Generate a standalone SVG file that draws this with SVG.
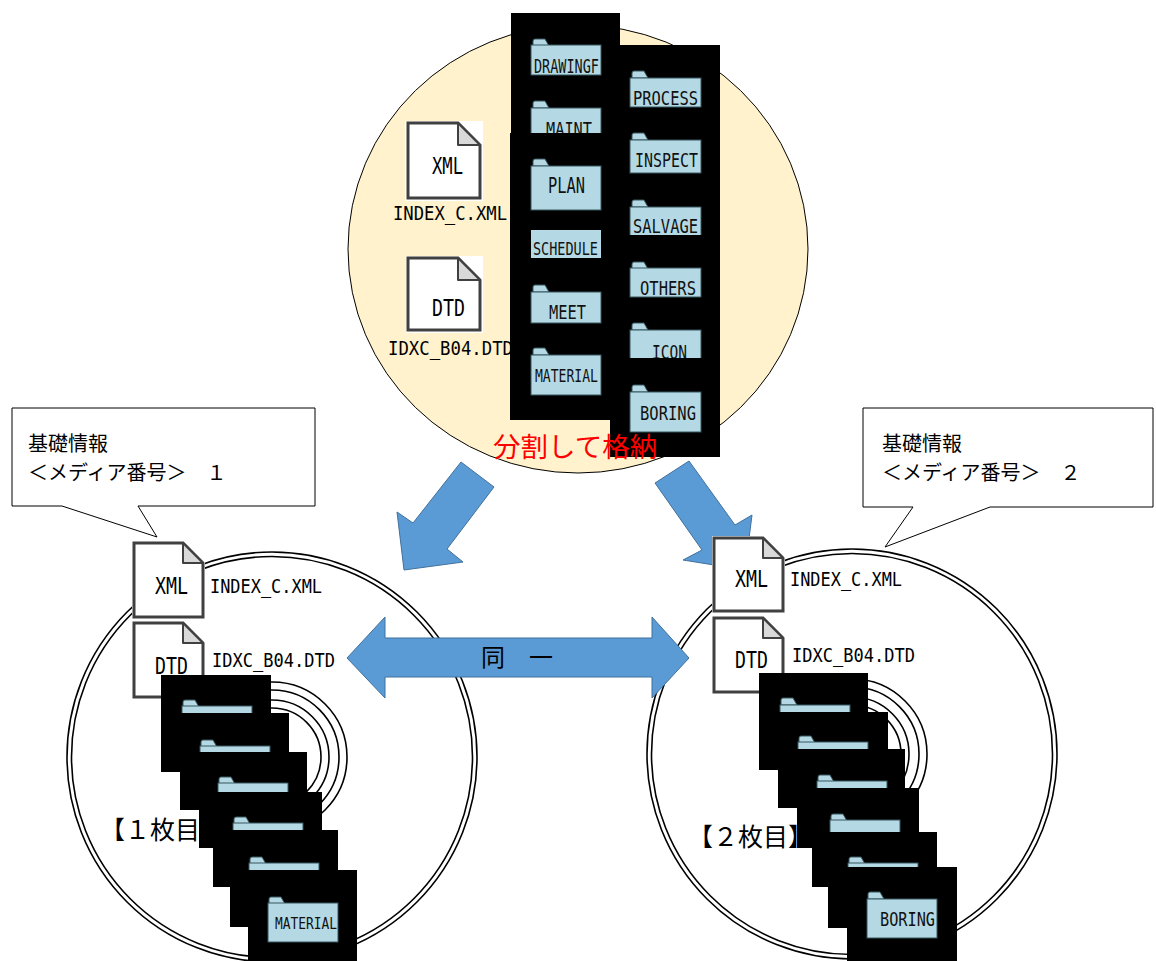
<svg xmlns="http://www.w3.org/2000/svg" xmlns:xlink="http://www.w3.org/1999/xlink" width="1156" height="961" viewBox="0 0 1156 961">
<style>
  .bk{fill:#000}
  .fd{fill:#B4D9E4;stroke:#36565E;stroke-width:1}
  .fl{font-family:"DejaVu Sans Mono",monospace;fill:#111}
  .lbl{font-family:"DejaVu Sans Mono",monospace;fill:#000}
  .jp{font-family:"Noto Sans CJK JP",sans-serif;fill:#000}
  .doc{fill:#fff;stroke:#404040;stroke-width:3}
  .fold{fill:#D9D9D9;stroke:#404040;stroke-width:2;stroke-linejoin:round}
  .ring{fill:none;stroke:#000;stroke-width:1.6}
  .arw{fill:#5B9BD5;stroke:#41719C;stroke-width:1}
  .call{fill:#fff;stroke:#000;stroke-width:1}
</style>
<defs>
  <!-- folder tab, origin at its top-left -->
  <path id="tab" class="fd" d="M1,7 V2 Q1,0 3,0 H13 L17,7 Z"/>
  <clipPath id="clipMaint"><rect x="520" y="95" width="95" height="38"/></clipPath>
  <clipPath id="clipIcon"><rect x="620" y="315" width="95" height="43"/></clipPath>
  <clipPath id="clipSalv"><rect x="620" y="195" width="95" height="40"/></clipPath>
</defs>

<rect width="1156" height="961" fill="#fff"/>

<!-- source volume -->
<g id="source">
  <ellipse cx="578" cy="249" rx="230" ry="224" fill="#FFF2CC" stroke="#000" stroke-width="1"/>

  <g id="src-xml">
    <rect x="405" y="121" width="78" height="80" fill="#fff"/>
    <path class="doc" d="M408,123 H458 L480,145 V198 H408 Z"/>
    <path class="fold" d="M458,123 V145 H480 Z"/>
    <text class="lbl" x="432" y="174" font-size="23" textLength="31" lengthAdjust="spacingAndGlyphs">XML</text>
    <text class="lbl" x="393" y="220" font-size="20" textLength="114" lengthAdjust="spacingAndGlyphs">INDEX_C.XML</text>
  </g>
  <g id="src-dtd">
    <rect x="406" y="256" width="77" height="77" fill="#fff"/>
    <path class="doc" d="M408,258 H458 L480,280 V330 H408 Z"/>
    <path class="fold" d="M458,258 V280 H480 Z"/>
    <text class="lbl" x="432" y="316" font-size="23" textLength="33" lengthAdjust="spacingAndGlyphs">DTD</text>
    <text class="lbl" x="388" y="355" font-size="20" textLength="125" lengthAdjust="spacingAndGlyphs">IDXC_B04.DTD</text>
  </g>

  <!-- right column of folders -->
  <g id="src-col2">
    <rect class="bk" x="610" y="45" width="110" height="412"/>
    <g id="f-process">
      <use href="#tab" x="631" y="71"/>
      <rect class="fd" x="630" y="78" width="71" height="29"/>
      <text class="fl" x="633" y="105" font-size="19" textLength="65" lengthAdjust="spacingAndGlyphs">PROCESS</text>
    </g>
    <g id="f-inspect">
      <use href="#tab" x="631" y="133"/>
      <rect class="fd" x="630" y="140" width="71" height="33"/>
      <text class="fl" x="635" y="167" font-size="19" textLength="63" lengthAdjust="spacingAndGlyphs">INSPECT</text>
    </g>
    <g id="f-salvage" clip-path="url(#clipSalv)">
      <use href="#tab" x="631" y="200"/>
      <rect class="fd" x="630" y="207" width="71" height="33"/>
      <text class="fl" x="633" y="233" font-size="19" textLength="65" lengthAdjust="spacingAndGlyphs">SALVAGE</text>
    </g>
    <g id="f-others">
      <use href="#tab" x="631" y="262"/>
      <rect class="fd" x="630" y="268" width="71" height="29"/>
      <text class="fl" x="640" y="295" font-size="19" textLength="56" lengthAdjust="spacingAndGlyphs">OTHERS</text>
    </g>
    <g id="f-icon" clip-path="url(#clipIcon)">
      <use href="#tab" x="631" y="323"/>
      <rect class="fd" x="630" y="330" width="71" height="35"/>
      <text class="fl" x="652" y="359" font-size="19" textLength="35" lengthAdjust="spacingAndGlyphs">ICON</text>
    </g>
    <g id="f-boring">
      <use href="#tab" x="631" y="385"/>
      <rect class="fd" x="630" y="392" width="71" height="40"/>
      <text class="fl" x="640" y="420" font-size="19" textLength="56" lengthAdjust="spacingAndGlyphs">BORING</text>
    </g>
  </g>

  <!-- left column of folders -->
  <g id="src-col1">
    <rect class="bk" x="511" y="13" width="109" height="120"/>
    <g id="f-drawingf">
      <use href="#tab" x="532" y="39"/>
      <rect class="fd" x="531" y="45" width="70" height="30"/>
      <text class="fl" x="534" y="73" font-size="19" textLength="65" lengthAdjust="spacingAndGlyphs">DRAWINGF</text>
    </g>
    <g id="f-maint" clip-path="url(#clipMaint)">
      <use href="#tab" x="532" y="101"/>
      <rect class="fd" x="531" y="108" width="70" height="35"/>
      <text class="fl" x="546" y="136" font-size="19" textLength="46" lengthAdjust="spacingAndGlyphs">MAINT</text>
    </g>
    <rect class="bk" x="510" y="133" width="110" height="287"/>
    <g id="f-plan">
      <use href="#tab" x="532" y="159"/>
      <rect class="fd" x="531" y="166" width="70" height="44"/>
      <text class="fl" x="548" y="193" font-size="21" textLength="37" lengthAdjust="spacingAndGlyphs">PLAN</text>
    </g>
    <g id="f-schedule">
      <rect x="531" y="230" width="70" height="28" fill="#B4D9E4"/>
      <text class="fl" x="533" y="255" font-size="17" textLength="65" lengthAdjust="spacingAndGlyphs">SCHEDULE</text>
    </g>
    <g id="f-meet">
      <use href="#tab" x="532" y="285"/>
      <rect class="fd" x="531" y="292" width="70" height="31"/>
      <text class="fl" x="549" y="319" font-size="20" textLength="37" lengthAdjust="spacingAndGlyphs">MEET</text>
    </g>
    <g id="f-material">
      <use href="#tab" x="532" y="348"/>
      <rect class="fd" x="531" y="355" width="70" height="40"/>
      <text class="fl" x="535" y="382" font-size="18" textLength="63" lengthAdjust="spacingAndGlyphs">MATERIAL</text>
    </g>
  </g>

  <text class="jp" x="493" y="457" font-size="27.5" style="fill:#FF0000">分割して格納</text>
</g>

<!-- connectors -->
<g id="connectors">
  <polygon class="arw" points="461,462 494,487 447,549 463,562 404,570 397,512 413,523"/>
  <polygon class="arw" points="689,461 655,483 702,550 683,560 745,570 752,515 735,525"/>
</g>

<!-- disc 1 -->
<g id="disc1">
  <circle class="ring" cx="272" cy="757" r="205"/>
  <circle class="ring" cx="272" cy="757" r="200.5"/>
  <circle class="ring" cx="272" cy="757" r="75"/>
  <circle class="ring" cx="272" cy="757" r="67"/>
  <circle class="ring" cx="272" cy="757" r="57"/>
  <circle class="ring" cx="272" cy="757" r="49"/>
</g>

<!-- disc 2 -->
<g id="disc2">
  <circle class="ring" cx="852" cy="754" r="205"/>
  <circle class="ring" cx="852" cy="754" r="200.5"/>
  <circle class="ring" cx="852" cy="754" r="75"/>
  <circle class="ring" cx="852" cy="754" r="67"/>
  <circle class="ring" cx="852" cy="754" r="57"/>
  <circle class="ring" cx="852" cy="754" r="49"/>
</g>

<!-- "identical" double arrow -->
<g id="same">
  <polygon class="arw" points="347,658 385,617 385,638 652,638 652,617 689,658 652,698 652,677 385,677 385,698"/>
  <text class="jp" x="481" y="666" font-size="24">同　一</text>
</g>

<!-- callouts -->
<g id="note1">
  <path class="call" d="M12,408 H315 V506 H138 L157,537 L62,506 H12 Z"/>
  <text class="jp" x="28" y="451" font-size="20">基礎情報</text>
  <text class="jp" x="28" y="480" font-size="20">＜メディア番号＞　１</text>
</g>
<g id="note2">
  <path class="call" d="M863,408 H1153 V507 H990 L885,547 L913,507 H863 Z"/>
  <text class="jp" x="882" y="451" font-size="20">基礎情報</text>
  <text class="jp" x="882" y="480" font-size="20">＜メディア番号＞　２</text>
</g>

<!-- disc 1 contents -->
<g id="disc1-files">
  <rect x="132" y="541" width="73" height="78" fill="#fff"/>
  <path class="doc" d="M134,543 H183 L203,563 V617 H134 Z"/>
  <path class="fold" d="M183,543 V563 H203 Z"/>
  <text class="lbl" x="155" y="594" font-size="23" textLength="33" lengthAdjust="spacingAndGlyphs">XML</text>
  <text class="lbl" x="210" y="593" font-size="19" textLength="112" lengthAdjust="spacingAndGlyphs">INDEX_C.XML</text>
  <rect x="132" y="621" width="73" height="78" fill="#fff"/>
  <path class="doc" d="M134,623 H183 L203,643 V697 H134 Z"/>
  <path class="fold" d="M183,623 V643 H203 Z"/>
  <text class="lbl" x="155" y="674" font-size="23" textLength="33" lengthAdjust="spacingAndGlyphs">DTD</text>
  <text class="lbl" x="212" y="667" font-size="19" textLength="123" lengthAdjust="spacingAndGlyphs">IDXC_B04.DTD</text>
  <text class="jp" x="100" y="839" font-size="25">【１枚目】</text>
</g>
<g id="disc1-folders">
  <rect class="bk" x="161" y="675" width="110" height="97"/>
  <use href="#tab" x="182" y="700"/>
  <rect class="fd" x="182" y="706" width="70" height="30"/>
  <rect class="bk" x="180" y="713" width="109" height="97"/>
  <use href="#tab" x="200" y="740"/>
  <rect class="fd" x="200" y="746" width="70" height="30"/>
  <rect class="bk" x="199" y="752" width="108" height="96"/>
  <use href="#tab" x="218" y="777"/>
  <rect class="fd" x="218" y="783" width="70" height="30"/>
  <rect class="bk" x="213" y="792" width="109" height="95"/>
  <use href="#tab" x="233" y="817"/>
  <rect class="fd" x="233" y="823" width="70" height="30"/>
  <rect class="bk" x="230" y="830" width="108" height="97"/>
  <use href="#tab" x="249" y="857"/>
  <rect class="fd" x="249" y="863" width="70" height="30"/>
  <rect class="bk" x="248" y="870" width="109" height="91"/>
  <use href="#tab" x="268" y="897"/>
  <rect class="fd" x="268" y="903" width="70" height="39"/>
  <text class="fl" x="275" y="929" font-size="16" textLength="62" lengthAdjust="spacingAndGlyphs">MATERIAL</text>
</g>

<!-- disc 2 contents -->
<g id="disc2-files">
  <rect x="712" y="536" width="73" height="77" fill="#fff"/>
  <path class="doc" d="M714,538 H763 L783,558 V611 H714 Z"/>
  <path class="fold" d="M763,538 V558 H783 Z"/>
  <text class="lbl" x="735" y="587" font-size="23" textLength="33" lengthAdjust="spacingAndGlyphs">XML</text>
  <text class="lbl" x="790" y="586" font-size="19" textLength="112" lengthAdjust="spacingAndGlyphs">INDEX_C.XML</text>
  <rect x="712" y="616" width="73" height="78" fill="#fff"/>
  <path class="doc" d="M714,618 H763 L783,638 V692 H714 Z"/>
  <path class="fold" d="M763,618 V638 H783 Z"/>
  <text class="lbl" x="735" y="668" font-size="23" textLength="33" lengthAdjust="spacingAndGlyphs">DTD</text>
  <text class="lbl" x="792" y="662" font-size="19" textLength="123" lengthAdjust="spacingAndGlyphs">IDXC_B04.DTD</text>
  <text class="jp" x="688" y="846" font-size="25">【２枚目】</text>
</g>
<g id="disc2-folders">
  <rect class="bk" x="759" y="673" width="109" height="97"/>
  <use href="#tab" x="780" y="698"/>
  <rect class="fd" x="780" y="705" width="70" height="30"/>
  <rect class="bk" x="778" y="712" width="110" height="96"/>
  <use href="#tab" x="798" y="736"/>
  <rect class="fd" x="798" y="742" width="70" height="30"/>
  <rect class="bk" x="797" y="749" width="108" height="99"/>
  <use href="#tab" x="817" y="775"/>
  <rect class="fd" x="817" y="781" width="70" height="30"/>
  <rect class="bk" x="812" y="788" width="107" height="99"/>
  <use href="#tab" x="830" y="814"/>
  <rect class="fd" x="830" y="820" width="70" height="30"/>
  <rect class="bk" x="828" y="832" width="109" height="96"/>
  <use href="#tab" x="848" y="857"/>
  <rect class="fd" x="848" y="863" width="70" height="30"/>
  <rect class="bk" x="847" y="867" width="110" height="94"/>
  <use href="#tab" x="867" y="892"/>
  <rect class="fd" x="867" y="899" width="70" height="39"/>
  <text class="fl" x="880" y="926" font-size="19" textLength="55" lengthAdjust="spacingAndGlyphs">BORING</text>
</g>
</svg>
